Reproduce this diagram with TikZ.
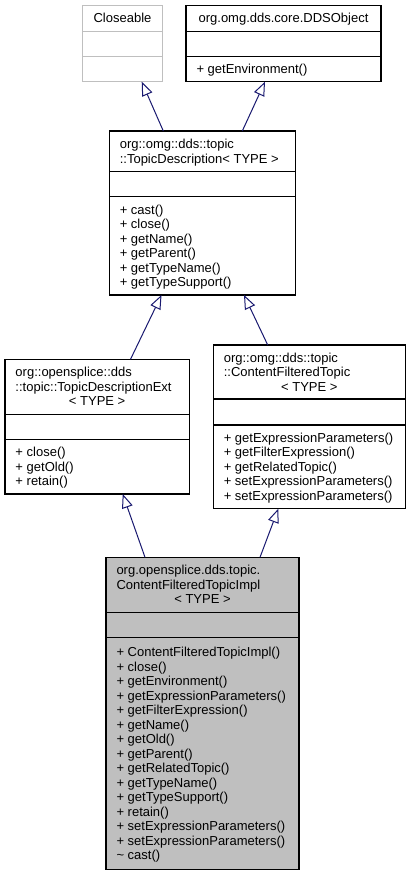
\documentclass[tikz,border=0pt]{standalone}
\usepackage{fontspec}
\setmainfont{Liberation Sans}
\usetikzlibrary{calc,arrows.meta}
\definecolor{navy}{HTML}{191970}
\definecolor{boxgrey}{HTML}{BFBFBF}
\newcommand\ls{\rule[-2.75pt]{0pt}{14.5pt}}
\tikzset{
  cls/.style={draw=black, line width=1.1pt, inner sep=0pt, outer sep=0pt, anchor=north west},
  sep/.style={draw=black, line width=1.1pt},
  txt/.style={inner sep=0pt, outer sep=0pt, anchor=north west, align=left, font=\fontsize{13}{14.5}\selectfont},
  ctxt/.style={txt, anchor=north, align=center},
  inh/.style={draw=navy, line width=1pt, -{Triangle[open, length=14pt, width=11pt]}}
}
\begin{document}
\begin{tikzpicture}[x=1pt,y=-1pt]
\fill[white] (0,0) rectangle (411,875);
\useasboundingbox (0,0) rectangle (411,875);

% Closeable
\node[cls, draw=boxgrey, minimum width=79.6pt, minimum height=76.4pt] (clo) at (82.7,5.3) {};
\draw[sep, draw=boxgrey] ($(clo.north west)+(0,26.4)$) -- ($(clo.north east)+(0,26.4)$);
\draw[sep, draw=boxgrey] ($(clo.north west)+(0,51.4)$) -- ($(clo.north east)+(0,51.4)$);
\node[ctxt] (clot) at (122.5,11.25) {\ls Closeable};

% DDSObject
\node[cls, minimum width=195pt, minimum height=76.4pt] (dds) at (186,5.3) {};
\draw[sep] ($(dds.north west)+(0,26.4)$) -- ($(dds.north east)+(0,26.4)$);
\draw[sep] ($(dds.north west)+(0,51.4)$) -- ($(dds.north east)+(0,51.4)$);
\node[ctxt] (ddst) at (283.5,11.25) {\ls org.omg.dds.core.DDSObject};
\node[txt] (ddsm) at (196.5,61.95) {\ls + getEnvironment()};

% TopicDescription
\node[cls, minimum width=186.4pt, minimum height=164pt] (td) at (109.3,131) {};
\draw[sep] ($(td.north west)+(0,40.7)$) -- ($(td.north east)+(0,40.7)$);
\draw[sep] ($(td.north west)+(0,65.7)$) -- ($(td.north east)+(0,65.7)$);
\node[txt] (tdt) at (119.8,136.85) {\ls org::omg::dds::topic\\\ls ::TopicDescription< TYPE >};
\node[txt] (tdm) at (119.8,202.35) {\ls + cast()\\\ls + close()\\\ls + getName()\\\ls + getParent()\\\ls + getTypeName()\\\ls + getTypeSupport()};

% TopicDescriptionExt
\node[cls, minimum width=184.3pt, minimum height=134.7pt] (ext) at (5,359.3) {};
\draw[sep] ($(ext.north west)+(0,55)$) -- ($(ext.north east)+(0,55)$);
\draw[sep] ($(ext.north west)+(0,80)$) -- ($(ext.north east)+(0,80)$);
\node[txt] (extt) at (15.5,365.05) {\ls org::opensplice::dds\\\ls ::topic::TopicDescriptionExt};
\node[ctxt] (extc) at (97.15,394.05) {\ls < TYPE >};
\node[txt] (extm) at (15.5,444.9) {\ls + close()\\\ls + getOld()\\\ls + retain()};

% ContentFilteredTopic
\node[cls, minimum width=192pt, minimum height=163.7pt] (cft) at (213.3,345) {};
\draw[sep] ($(cft.north west)+(0,54)$) -- ($(cft.north east)+(0,54)$);
\draw[sep] ($(cft.north west)+(0,80)$) -- ($(cft.north east)+(0,80)$);
\node[txt] (cftt) at (223.8,350.25) {\ls org::omg::dds::topic\\\ls ::ContentFilteredTopic};
\node[ctxt] (cftc) at (309.3,379.25) {\ls < TYPE >};
\node[txt] (cftm) at (223.8,430.6) {\ls + getExpressionParameters()\\\ls + getFilterExpression()\\\ls + getRelatedTopic()\\\ls + setExpressionParameters()\\\ls + setExpressionParameters()};

% ContentFilteredTopicImpl
\node[cls, fill=boxgrey, minimum width=193pt, minimum height=312pt] (impl) at (106,557.3) {};
\draw[sep] ($(impl.north west)+(0,55)$) -- ($(impl.north east)+(0,55)$);
\draw[sep] ($(impl.north west)+(0,80.4)$) -- ($(impl.north east)+(0,80.4)$);
\node[txt] (implt) at (116.5,563.05) {\ls org.opensplice.dds.topic.\\\ls ContentFilteredTopicImpl};
\node[ctxt] (implc) at (202.5,592.05) {\ls < TYPE >};
\node[txt] (implm) at (116.5,644.75) {\ls + ContentFilteredTopicImpl()\\\ls + close()\\\ls + getEnvironment()\\\ls + getExpressionParameters()\\\ls + getFilterExpression()\\\ls + getName()\\\ls + getOld()\\\ls + getParent()\\\ls + getRelatedTopic()\\\ls + getTypeName()\\\ls + getTypeSupport()\\\ls + retain()\\\ls + setExpressionParameters()\\\ls + setExpressionParameters()\\\ls \textasciitilde{} cast()};

% inheritance arrows
\draw[inh] ($(td.north west)+(54,0)$) -- ($(clo.south west)+(59,0)$);
\draw[inh] ($(td.north west)+(133,0)$) -- ($(dds.south west)+(79,0)$);
\draw[inh] ($(ext.north west)+(125.5,0)$) -- ($(td.south west)+(52.2,0)$);
\draw[inh] ($(cft.north west)+(54.4,0)$) -- ($(td.south west)+(134.7,0)$);
\draw[inh] ($(impl.north west)+(39,0)$) -- ($(ext.south west)+(117.7,0)$);
\draw[inh] ($(impl.north west)+(154,0)$) -- ($(cft.south west)+(65,0)$);
\end{tikzpicture}
\end{document}
